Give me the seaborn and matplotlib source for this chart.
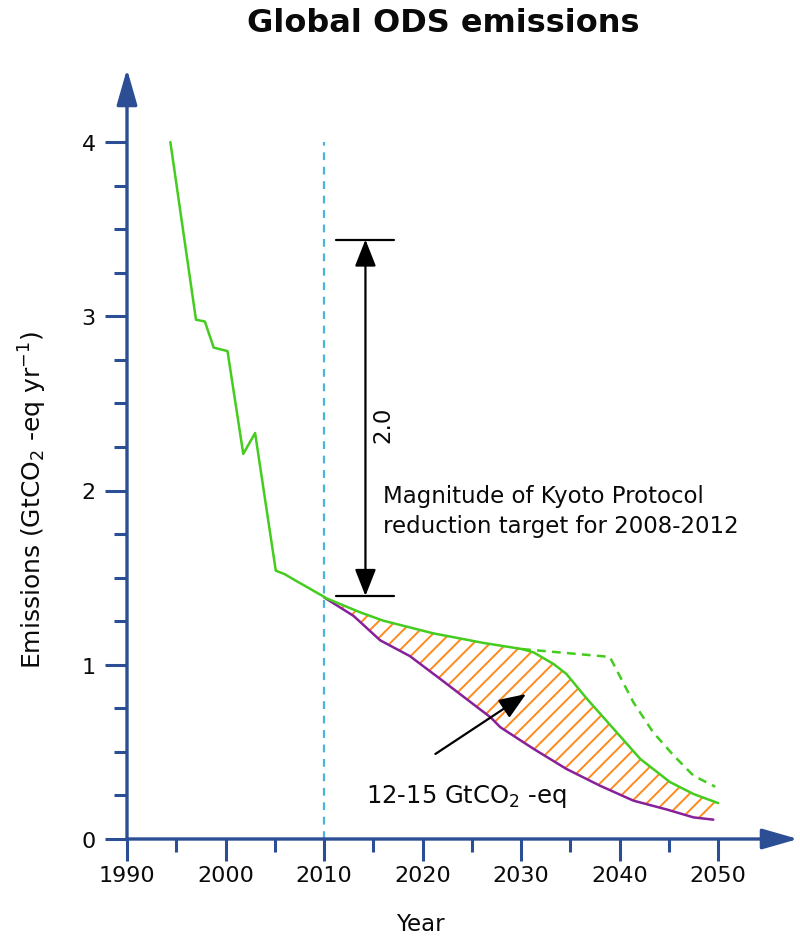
import numpy as np
import pandas as pd
import matplotlib
matplotlib.use("Agg")
import matplotlib.pyplot as plt
import seaborn as sns
from matplotlib.patches import FancyArrowPatch

# ---- data ----
hist_years = [1994.4, 1997.0, 1997.9, 1998.8, 2000.2, 2001.8, 2003.0, 2005.1, 2006.0, 2006.9, 2010.0]
hist_vals = [4.00, 2.98, 2.97, 2.82, 2.80, 2.21, 2.33, 1.54, 1.52, 1.49, 1.39]

upper_years = [2010.0, 2013.7, 2016.0, 2021.1, 2026.2, 2030.1, 2031.3, 2033.3, 2034.6,
               2036.7, 2039.7, 2042.1, 2045.1, 2047.5, 2050.0]
upper_vals = [1.387, 1.30, 1.253, 1.18, 1.125, 1.09, 1.07, 1.004, 0.947,
              0.803, 0.612, 0.459, 0.327, 0.258, 0.206]

lower_years = [2010.0, 2013.0, 2015.7, 2018.7, 2021.8, 2026.9, 2027.9, 2031.3, 2034.6,
               2038.0, 2041.4, 2044.8, 2047.5, 2049.5]
lower_vals = [1.387, 1.28, 1.14, 1.05, 0.918, 0.698, 0.641, 0.516, 0.402,
              0.306, 0.22, 0.169, 0.124, 0.111]

dotted_years = [2030.1, 2039.0, 2041.4, 2043.4, 2045.5, 2047.5, 2049.7]
dotted_vals = [1.09, 1.045, 0.784, 0.612, 0.478, 0.363, 0.30]

x_major = [1990, 2000, 2010, 2020, 2030, 2040, 2050]
x_minor = [1995, 2005, 2015, 2025, 2035, 2045]
y_major = [0, 1, 2, 3, 4]
y_minor = [0.25, 0.5, 0.75, 1.25, 1.5, 1.75, 2.25, 2.5, 2.75, 3.25, 3.5, 3.75]

kyoto_top = 3.44
kyoto_bottom = 1.395
kyoto_label = "2.0"

# ---- style ----
sns.set_style("white")
plt.rcParams['font.family'] = ['DejaVu Sans']

AXIS_BLUE = '#2B4E94'
GREEN = '#44CC1E'
PURPLE = '#87209A'
CYAN = '#48B6D6'
ORANGE = '#FF8A1C'
TXT = '#0A0A0A'

fig = plt.figure(figsize=(8, 9.37), dpi=100)
ax = fig.add_axes([127/800, 1-840/937, 671/800, 770/937])
ax.set_xlim(1990, 2058.1)
ax.set_ylim(0, (840-70)/174.25)

for s in ax.spines.values():
    s.set_visible(False)

hist_df = pd.DataFrame({'year': hist_years, 'val': hist_vals})
up_df = pd.DataFrame({'year': upper_years, 'val': upper_vals})
lo_df = pd.DataFrame({'year': lower_years, 'val': lower_vals})
dot_df = pd.DataFrame({'year': dotted_years, 'val': dotted_vals})

# hatched area between the two projections
poly_x = list(upper_years) + list(lower_years[::-1])
poly_y = list(upper_vals) + list(lower_vals[::-1])
plt.rcParams['hatch.linewidth'] = 1.4
ax.fill(poly_x, poly_y, facecolor='none', edgecolor=ORANGE, hatch='//', linewidth=0, zorder=2)

# 2010 dashed line
ax.plot([2010, 2010], [0, 4.0], color=CYAN, lw=1.6, dashes=(3.5, 3), zorder=1)

sns.lineplot(data=dot_df, x='year', y='val', ax=ax, color=GREEN, lw=1.8,
             estimator=None, sort=False, zorder=3)
ax.lines[-1].set_dashes((3.5, 2.5))
sns.lineplot(data=lo_df, x='year', y='val', ax=ax, color=PURPLE, lw=1.8,
             estimator=None, sort=False, zorder=4)
sns.lineplot(data=up_df, x='year', y='val', ax=ax, color=GREEN, lw=1.8,
             estimator=None, sort=False, zorder=5)
sns.lineplot(data=hist_df, x='year', y='val', ax=ax, color=GREEN, lw=1.8,
             estimator=None, sort=False, zorder=5)

# ticks
ax.set_xticks(x_major)
ax.set_xticks(x_minor, minor=True)
ax.set_yticks(y_major)
ax.set_yticks(y_minor, minor=True)
ax.tick_params(axis='both', which='major', direction='out', length=15.5, width=2.2,
               color=AXIS_BLUE, labelsize=16, labelcolor=TXT)
ax.tick_params(axis='both', which='minor', direction='out', length=9.5, width=2.2,
               color=AXIS_BLUE)
ax.tick_params(axis='x', which='major', pad=3)
ax.tick_params(axis='y', which='major', pad=7)
ax.tick_params(left=True, bottom=True, which='both')

# axis arrows
for xy_from, xy_to in [((0, 0), (1, 0)), ((0, 0), (0, 1))]:
    arr = FancyArrowPatch(xy_from, xy_to, transform=ax.transAxes,
                          arrowstyle='-|>,head_length=22,head_width=6.3',
                          mutation_scale=1, color=AXIS_BLUE, lw=2.4,
                          shrinkA=0, shrinkB=0, clip_on=False, zorder=6)
    ax.add_patch(arr)

# labels
ax.set_xlabel('Year', fontsize=16.5, color=TXT)
ax.xaxis.label.set_va('center')
ax.xaxis.set_label_coords((420-127)/671, -(925-840)/770)
ax.set_ylabel('Emissions (GtCO$_2$ -eq yr$^{-1}$)', fontsize=18, color=TXT)
ax.yaxis.label.set_va('center')
ax.yaxis.set_label_coords(-(127-33)/671, (840-500)/770)

fig.text(443/800, 1-23/937, 'Global ODS emissions', ha='center', va='center',
         fontsize=23, fontweight='bold', color=TXT)

# Kyoto bracket
ax.plot([2011.2, 2017.1], [kyoto_top, kyoto_top], color='black', lw=1.6, zorder=5)
ax.plot([2011.2, 2017.1], [kyoto_bottom, kyoto_bottom], color='black', lw=1.6, zorder=5)
ax.add_patch(FancyArrowPatch((2014.2, kyoto_bottom), (2014.2, kyoto_top),
                             arrowstyle='<|-|>,head_length=16.5,head_width=6.5',
                             mutation_scale=1, color='black', lw=1.6,
                             shrinkA=0, shrinkB=0, zorder=5))
ax.text(2016.0, 2.38, kyoto_label, rotation=90, ha='center', va='center',
        fontsize=16.5, color=TXT)
ax.text(2016.0, 1.885, 'Magnitude of Kyoto Protocol\nreduction target for 2008-2012',
        ha='left', va='center', fontsize=16.5, linespacing=1.35, color=TXT)

# cumulative annotation
ax.add_patch(FancyArrowPatch((2021.3, 0.488), (2030.5, 0.832),
                             arrowstyle='-|>,head_length=16.5,head_width=6.5',
                             mutation_scale=1, color='black', lw=1.6,
                             shrinkA=0, shrinkB=0, zorder=7))
ax.text(2014.3, 0.212, '12-15 GtCO$_2$ -eq', ha='left', va='baseline',
        fontsize=17.5, color=TXT)

fig.savefig('out.png', dpi=100)
